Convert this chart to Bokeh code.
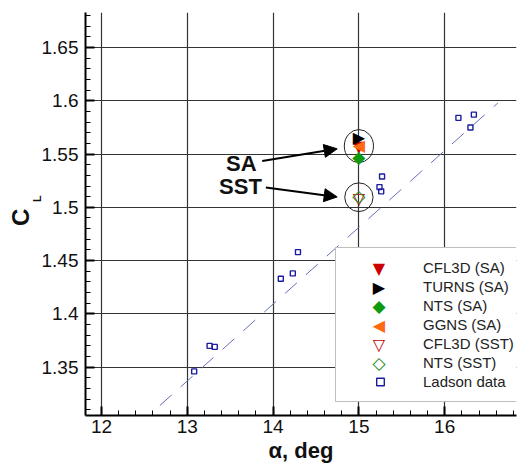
import numpy as np
from bokeh.plotting import figure
from bokeh.models import (Legend, LegendItem, Arrow, NormalHead, Label, LinearAxis,
                          FixedTicker, SingleIntervalTicker, CustomJSTickFormatter, Range1d)
from bokeh.core.properties import value
from bokeh.embed import file_html
from bokeh.resources import INLINE

# ---------------- data ----------------
ladson_alpha = [13.08, 13.26, 13.32, 14.09, 14.23, 14.29, 15.24, 15.26, 15.27, 16.16, 16.30, 16.34]
ladson_cl = [1.346, 1.370, 1.369, 1.433, 1.438, 1.458, 1.519, 1.515, 1.529, 1.584, 1.575, 1.587]
fit_alpha = [12.68, 16.62]
fit_cl = [1.314, 1.598]

cfd_alpha = [15.0]
cfl3d_sa = [1.557]
turns_sa = [1.566]
nts_sa = [1.547]
ggns_sa = [1.5584]
cfl3d_sst = [1.508]
nts_sst = [1.5104]

ellipse_cl = [1.5575, 1.5095]
ellipse_w = [0.34, 0.33]
ellipse_h = [0.031, 0.027]

sa_text = ("SA", 13.63, 1.5414)
sst_text = ("SST", 13.62, 1.5198)
sa_arrow = (13.873, 1.5436, 14.747, 1.5549)
sst_arrow = (13.916, 1.5186, 14.747, 1.5098)

legend_labels = ["CFL3D (SA)", "TURNS (SA)", "NTS (SA)", "GGNS (SA)",
                 "CFL3D (SST)", "NTS (SST)", "Ladson data"]

x_range = (11.8135, 16.837)
y_range = (1.3046, 1.6829)

FONT = "Liberation Sans"
SYM_FONT = "DejaVu Sans"

p = figure(width=528, height=466, output_backend="svg", toolbar_location=None,
           x_range=Range1d(*x_range), y_range=Range1d(*y_range),
           min_border_left=85, min_border_right=12, min_border_top=12, min_border_bottom=51)
p.outline_line_color = None
p.background_fill_color = "white"
p.border_fill_color = "white"

main_x = p.xaxis[0]
main_y = p.yaxis[0]

xt = SingleIntervalTicker(interval=1, num_minor_ticks=5)
yt = SingleIntervalTicker(interval=0.05, num_minor_ticks=5)
main_x.ticker = xt
main_y.ticker = yt
p.xgrid.ticker = xt
p.ygrid.ticker = yt
p.xgrid.axis = main_x
p.ygrid.axis = main_y
p.xgrid.bounds = x_range
p.ygrid.bounds = y_range
p.grid.grid_line_color = "#333333"
p.grid.grid_line_width = 1.2

fmt = CustomJSTickFormatter(code="return String(Number(tick.toFixed(2)))")
main_x.formatter = fmt
main_y.formatter = fmt

for ax in (main_x, main_y):
    ax.axis_line_width = 2
    ax.axis_line_color = "black"
    ax.major_tick_in = 9
    ax.major_tick_out = 0
    ax.major_tick_line_width = 2
    ax.minor_tick_in = 5
    ax.minor_tick_out = 0
    ax.minor_tick_line_width = 1
    ax.major_label_text_font = FONT
    ax.major_label_text_font_size = "19px"
    ax.major_label_text_color = "#111111"
    ax.axis_label_text_font = FONT
    ax.axis_label_text_font_style = "bold"
    ax.axis_label_text_color = "#111111"

main_x.major_label_standoff = 4
main_y.major_label_standoff = 7
main_x.axis_label = "α, deg"
main_x.axis_label_text_font_size = "22px"
main_x.axis_label_standoff = 2


# y-axis title C_L: "L" subscript axis (inner) and "C" axis (outer)
def label_axis(text, size, standoff):
    ax = LinearAxis(ticker=FixedTicker(ticks=[]),
                    axis_line_color=None, major_tick_line_color=None,
                    minor_tick_line_color=None, axis_label=text,
                    axis_label_text_font=FONT, axis_label_text_font_style="bold",
                    axis_label_text_font_size=size, axis_label_text_color="#111111",
                    axis_label_standoff=standoff)
    p.add_layout(ax, "left")
    return ax


label_axis("\u00a0" * 10 + "L", "11px", -4)
label_axis("C\u00a0", "24px", -6)

# fit line
p.line(fit_alpha, fit_cl, line_color="#6670b8", line_width=1, line_dash="16 12")

# ellipses
p.ellipse(x=cfd_alpha * 2, y=ellipse_cl, width=ellipse_w, height=ellipse_h,
          fill_color=None, line_color="#222222", line_width=1)

r_lad = p.scatter(ladson_alpha, ladson_cl, marker="square", size=5, fill_color=None,
                  line_color="#1c1ca0", line_width=1.4)

# CFD symbols (character, colour, font size)
SYMS = {"cfl3d_sa": ("\u25BC", "#cc0000", "16px"),
        "turns": ("\u25B6", "black", "16px"),
        "nts": ("\u25C6", "#0f9a0f", "17px"),
        "ggns": ("\u25C0", "#ff6a10", "16px"),
        "cfl3d_sst": ("\u25BD", "#c00000", "16px"),
        "nts_sst": ("\u25C7", "#1a8a1a", "17px")}


def sym(y, key):
    ch, color, size = SYMS[key]
    return p.text(x=cfd_alpha, y=y, text=[ch], text_color=color,
                  text_font=value(SYM_FONT), text_font_size=size,
                  text_align="center", text_baseline="middle")


r_cfl_sa = sym(cfl3d_sa, "cfl3d_sa")
r_turns = sym(turns_sa, "turns")
r_nts = sym(nts_sa, "nts")
r_ggns = sym(ggns_sa, "ggns")
r_cfl_sst = sym(cfl3d_sst, "cfl3d_sst")
r_nts_sst = sym(nts_sst, "nts_sst")

# text + arrows
for t, x, y in (sa_text, sst_text):
    p.add_layout(Label(x=x, y=y, text=t, text_font=FONT, text_font_size="22px",
                       text_font_style="bold", text_align="center", text_baseline="middle",
                       text_color="#111111"))
for (x0, y0, x1, y1) in (sa_arrow, sst_arrow):
    p.add_layout(Arrow(x_start=x0, y_start=y0, x_end=x1, y_end=y1, line_width=2,
                       line_color="black",
                       end=NormalHead(size=13, fill_color="black", line_color="black")))

# main legend
LEG_X, LEG_Y, PAD, ROW, GW = 250, 13, 10, 19, 68
renderers = [r_cfl_sa, r_turns, r_nts, r_ggns, r_cfl_sst, r_nts_sst, r_lad]
legend = Legend(items=[LegendItem(label=l, renderers=[r]) for l, r in zip(legend_labels, renderers)],
                location=(LEG_X, LEG_Y))
legend.margin = 0
legend.padding = PAD
legend.spacing = 0
legend.glyph_width = GW
legend.glyph_height = ROW
legend.label_height = ROW
legend.label_standoff = 9
legend.label_text_font = FONT
legend.label_text_font_size = "15px"
legend.label_text_color = "#222222"
legend.border_line_color = "#808080"
legend.border_line_width = 1
legend.background_fill_color = "white"
legend.background_fill_alpha = 1
p.add_layout(legend, "center")

# legend swatches for the symbol-glyph series (drawn as coloured symbol labels)
legend_h = len(legend_labels) * ROW + 2 * PAD
glyph_cx = LEG_X + PAD + GW / 2
for idx, key, r in ((0, "cfl3d_sa", r_cfl_sa), (1, "turns", r_turns), (2, "nts", r_nts),
                    (3, "ggns", r_ggns), (4, "cfl3d_sst", r_cfl_sst), (5, "nts_sst", r_nts_sst)):
    ch, color, size = SYMS[key]
    w = 0.77 * float(size[:-2])
    cy = LEG_Y + legend_h - PAD - ROW * idx - ROW / 2
    sw = Legend(items=[LegendItem(label=ch, renderers=[r])],
                location=(glyph_cx - w / 2, cy - ROW / 2))
    sw.margin = 0
    sw.padding = 0
    sw.spacing = 0
    sw.glyph_width = 0
    sw.glyph_height = ROW
    sw.label_height = ROW
    sw.label_standoff = 0
    sw.label_text_font = SYM_FONT
    sw.label_text_font_size = size
    sw.label_text_color = color
    sw.border_line_color = None
    sw.background_fill_alpha = 0
    p.add_layout(sw, "center")

open("out.html", "w").write(file_html(p, INLINE))
